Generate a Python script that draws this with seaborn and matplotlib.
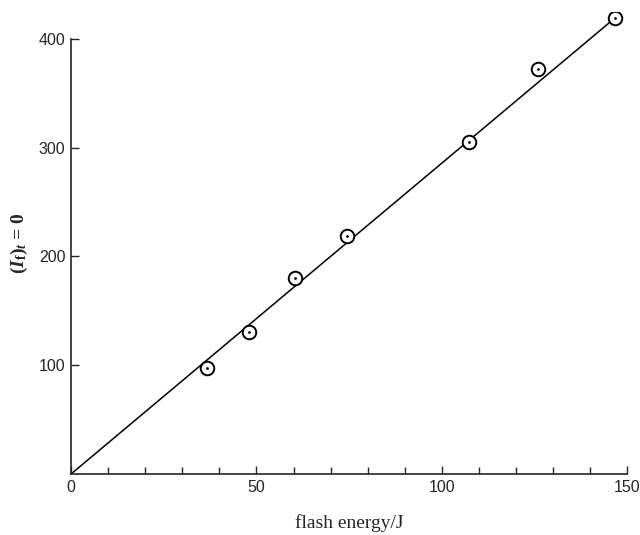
import matplotlib
matplotlib.use("Agg")
import matplotlib.pyplot as plt
import numpy as np
import pandas as pd
import seaborn as sns
from matplotlib.ticker import MultipleLocator

# values
energy = [36.7, 48.1, 60.4, 74.5, 107.4, 125.9, 146.6]
intensity = [97.5, 131, 180, 218.5, 305, 372, 419]
fit_x = [0, 146.6]
fit_y = [0, 419]

sns.set_style("ticks")
plt.rcParams['font.family'] = ['Liberation Sans', 'DejaVu Sans']
plt.rcParams['mathtext.fontset'] = 'custom'
plt.rcParams['mathtext.it'] = 'Liberation Serif:italic:bold'
plt.rcParams['mathtext.rm'] = 'Liberation Serif:bold'
plt.rcParams['mathtext.bf'] = 'Liberation Serif:bold'

fig = plt.figure(figsize=(6.4, 5.35), dpi=100)
ax = fig.add_axes([0.111, 0.114, 0.869, 0.864])

pts = pd.DataFrame({"x": energy, "y": intensity})
fit = pd.DataFrame({"x": fit_x, "y": fit_y})

sns.lineplot(data=fit, x="x", y="y", ax=ax, color="black", lw=1.1, zorder=2)
sns.scatterplot(data=pts, x="x", y="y", ax=ax, marker="o", s=95,
                facecolor="white", edgecolor="black", linewidth=1.4, zorder=3)
sns.scatterplot(data=pts, x="x", y="y", ax=ax, marker="o", s=4,
                color="black", linewidth=0, zorder=4)

ax.set_xlim(0, 150)
ax.set_ylim(0, 425)
sns.despine(ax=ax)
ax.spines['left'].set_bounds(0, 400)
ax.spines['left'].set_linewidth(1.2)
ax.spines['bottom'].set_linewidth(1.2)

ax.xaxis.set_major_locator(MultipleLocator(50))
ax.xaxis.set_minor_locator(MultipleLocator(10))
ax.set_yticks([100, 200, 300, 400])
ax.tick_params(direction="in", length=6, width=1, labelsize=11.5, pad=4)
ax.tick_params(axis="x", which="minor", direction="in", length=5, width=1)

ax.set_xlabel("flash energy/J", family="Liberation Serif", fontsize=14, labelpad=14)
ax.set_ylabel(r"$(I_{\rm f})_t$ = 0", fontsize=14, labelpad=6, fontweight="bold",
              family="Liberation Serif")

fig.savefig("out.png", dpi=100)
